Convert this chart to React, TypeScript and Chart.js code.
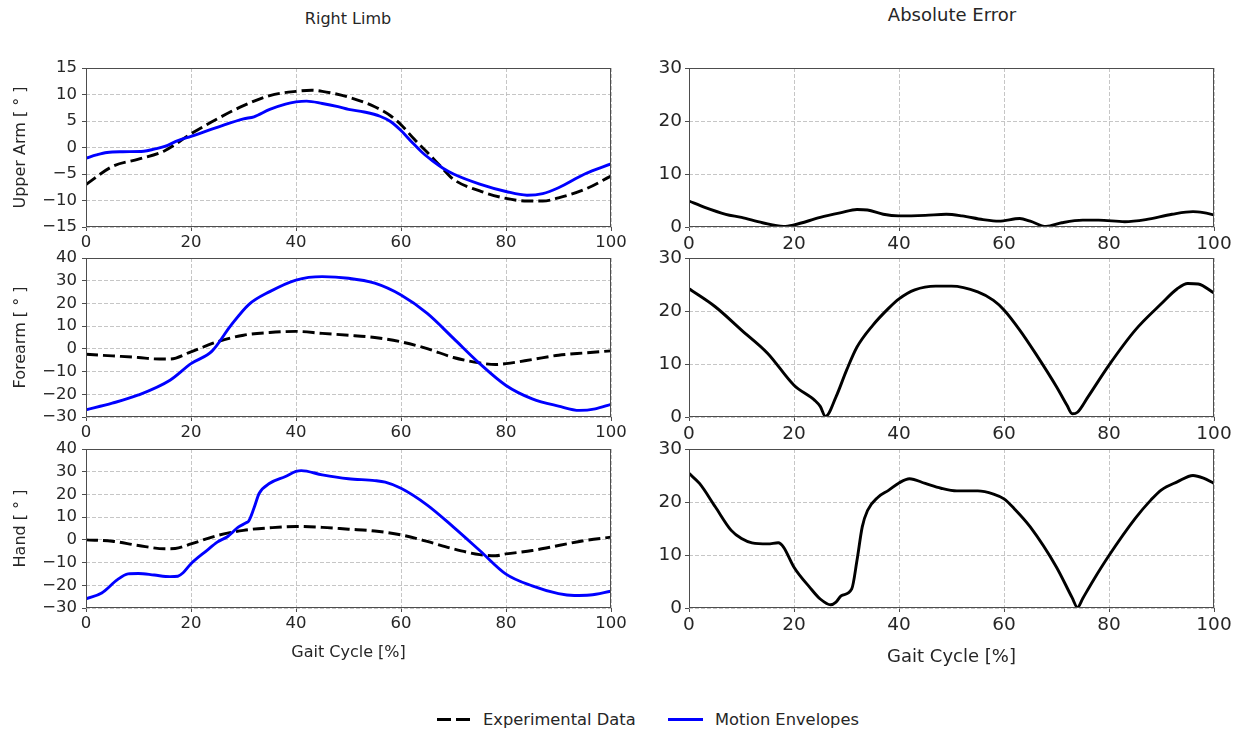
import React, { useEffect, useRef } from "react";
import { Chart, registerables } from "chart.js";
Chart.register(...registerables);

// ---------------- DATA ----------------
const xTicksGait = [0, 20, 40, 60, 80, 100];
const yTicksUpperArm = [-15, -10, -5, 0, 5, 10, 15];
const yTicksForearm = [-30, -20, -10, 0, 10, 20, 30, 40];
const yTicksHand = [-30, -20, -10, 0, 10, 20, 30, 40];
const yTicksError = [0, 10, 20, 30];

// Upper arm
const upperArmExpX = [0, 5, 10, 15, 20, 25, 30, 35, 40, 43, 45, 50, 55, 58, 60, 62.5, 65, 67.5, 70, 75, 80, 84, 87, 90, 95, 100];
const upperArmExpY = [-7, -3.6, -2.2, -0.6, 2.6, 5.4, 7.9, 9.8, 10.6, 10.8, 10.6, 9.5, 7.7, 6, 4.3, 1.6, -0.9, -3.5, -6, -8.2, -9.6, -10.1, -10.1, -9.5, -7.9, -5.4];
const upperArmEnvX = [0, 2, 4, 7, 11, 13, 15, 17.5, 20, 25, 30, 32, 35, 38, 40, 42, 45, 48, 50, 53, 56, 58, 60, 62, 64, 66, 68, 70, 75, 80, 84, 87, 90, 95, 100];
const upperArmEnvY = [-2, -1.4, -0.95, -0.8, -0.7, -0.3, 0.2, 1.3, 2.1, 3.8, 5.4, 5.8, 7.2, 8.2, 8.6, 8.75, 8.3, 7.7, 7.2, 6.7, 5.9, 4.9, 3.2, 1.1, -0.9, -2.5, -3.9, -5, -6.9, -8.3, -9, -8.7, -7.6, -5, -3.1];

// Forearm
const forearmExpX = [0, 5, 10, 13, 16, 20, 25, 30, 35, 40, 45, 50, 55, 60, 65, 70, 75, 78, 80, 85, 90, 95, 100];
const forearmExpY = [-2.4, -3.1, -3.8, -4.4, -4.5, -1.3, 3.1, 6, 7.2, 7.7, 6.8, 6, 5, 3.1, 0.1, -3.8, -6.2, -6.9, -6.5, -4.7, -2.8, -1.8, -0.9];
const forearmEnvX = [0, 5, 10, 16, 20, 24, 27.5, 31, 35, 40, 45, 50, 55, 60, 65, 70, 75, 80, 85, 90, 94, 97, 100];
const forearmEnvY = [-26.8, -23.9, -20.3, -13.8, -6.5, -1, 10, 19.5, 25.2, 30.3, 31.8, 31.1, 28.9, 23.7, 15.6, 4.6, -6.5, -16.1, -22, -25.2, -27.1, -26.4, -24.4];

// Hand
const handExpX = [0, 5, 10, 15, 17, 20, 25, 30, 35, 40, 45, 50, 55, 60, 65, 70, 75, 78, 80, 85, 90, 95, 100];
const handExpY = [0, -0.6, -2.5, -3.9, -3.8, -1.8, 1.9, 4.2, 5.3, 5.9, 5.5, 4.7, 3.9, 2.2, -0.7, -4, -6.5, -7, -6.2, -4.7, -2.5, -0.3, 1.2];
const handEnvX = [0, 3, 6, 8, 10, 13, 16, 17.5, 18.5, 20, 23, 25, 27, 28, 29, 30.5, 31, 32, 33, 35, 38, 40, 41, 45, 50, 55, 57, 60, 65, 70, 75, 80, 85, 90, 93, 96, 100];
const handEnvY = [-26, -23.4, -17.5, -15, -14.8, -15.5, -16.2, -16, -14.5, -10.5, -4.7, -1, 1.5, 3.5, 5.6, 7.5, 8.3, 14, 20.5, 24.9, 27.9, 30.1, 30.5, 28.6, 26.9, 26.1, 25.4, 22.7, 15.3, 5.6, -4.7, -15.1, -20.3, -23.7, -24.5, -24.3, -22.6];

// Absolute errors
const upperArmErrX = [0, 3, 7, 10, 14, 18, 20, 25, 29, 32, 34, 37, 40, 45, 49, 52, 56, 59, 63, 65, 68, 71, 75, 78, 83, 87, 92, 96, 98, 100];
const upperArmErrY = [4.9, 3.7, 2.4, 1.8, 0.8, 0.1, 0.4, 1.8, 2.7, 3.3, 3.2, 2.4, 2.1, 2.2, 2.4, 2.1, 1.4, 1.1, 1.6, 1.1, 0.1, 0.8, 1.3, 1.3, 1.0, 1.4, 2.4, 2.9, 2.7, 2.3];
const forearmErrX = [0, 5, 10, 15, 20, 24, 25, 26, 28, 30, 32, 35, 38, 40, 43, 47, 50, 55, 58, 60, 63, 66, 70, 72, 73, 74, 76, 80, 85, 90, 93, 95, 97, 100];
const forearmErrY = [24.2, 20.8, 16.4, 12, 6, 3.1, 2, 0.1, 3.8, 8.8, 13.2, 17.3, 20.5, 22.3, 24, 24.7, 24.7, 23.6, 22, 20.2, 16.4, 12, 5.7, 2.2, 0.6, 0.9, 3.8, 9.8, 16.4, 21.4, 24.2, 25.2, 25.1, 23.4];
const handErrX = [0, 2, 5, 8, 10, 12, 15, 17, 18, 20, 23, 25, 27, 28, 29, 31, 32, 33, 34, 36, 38, 40, 42, 45, 48, 51, 55, 58, 60, 62, 65, 70, 73, 74, 75, 77, 80, 85, 88, 90, 93, 96, 98, 100];
const handErrY = [25.4, 23.5, 19.1, 14.7, 13.1, 12.3, 12.1, 12.3, 11.5, 7.7, 3.9, 1.7, 0.6, 1.1, 2.3, 3.6, 9, 15.3, 18.4, 20.9, 22.2, 23.6, 24.4, 23.5, 22.6, 22.1, 22.1, 21.5, 20.6, 18.7, 15.3, 7.7, 1.9, 0.1, 1.8, 5.2, 9.9, 16.9, 20.4, 22.3, 23.8, 25, 24.5, 23.5];

const seriesLabels = ["Experimental Data", "Motion Envelopes"];
const titles = ["Right Limb", "Absolute Error"];
const yLabels = ["Upper Arm [ \u00b0 ]", "Forearm [ \u00b0 ]", "Hand [ \u00b0 ]"];
const xLabel = "Gait Cycle [%]";

// ---------------- STYLE ----------------
const FONT = "'DejaVu Sans', sans-serif";
const TEXT = "#262626";
const SPINE = "#4d4d4d";
const GRID = "#b8b8b8";
const BLUE = "#0000ff";

const fmt = (v: number) => (v < 0 ? "\u2212" + Math.abs(v) : String(v));
const pts = (xs: number[], ys: number[]) => xs.map((x, i) => ({ x, y: ys[i] }));

const framePlugin = {
  id: "frame",
  afterDraw(chart: any) {
    const { ctx, chartArea: a } = chart;
    ctx.save();
    ctx.strokeStyle = SPINE;
    ctx.lineWidth = 1;
    const l = Math.round(a.left) + 0.5;
    const t = Math.round(a.top) + 0.5;
    const r = Math.round(a.right) - 0.5;
    const b = Math.round(a.bottom) - 0.5;
    ctx.strokeRect(l, t, r - l, b - t);
    ctx.restore();
  },
};

type Series = { x: number[]; y: number[]; color: string; dash?: number[]; order: number; label: string };

type PanelProps = {
  canvasLeft: number;
  canvasWidth: number;
  plotLeft: number;
  plotRight: number;
  plotTop: number;
  plotHeight: number;
  xAxisHeight: number;
  series: Series[];
  yTicks: number[];
  tickSize: number;
  yTickPad: number;
  yTitle?: string;
  yTitleSize?: number;
  xTitle?: string;
  xTitleSize?: number;
};

function Panel(p: PanelProps) {
  const ref = useRef<HTMLCanvasElement | null>(null);
  const padTop = 15;
  const canvasTop = p.plotTop - padTop;
  const canvasHeight = padTop + p.plotHeight + p.xAxisHeight;
  useEffect(() => {
    if (!ref.current) return;
    const gridOpts = {
      color: GRID,
      lineWidth: 0.8,
      drawTicks: true,
      tickLength: 4,
      tickColor: SPINE,
      tickWidth: 1,
      tickBorderDash: [],
    };
    const chart = new Chart(ref.current, {
      type: "line",
      data: {
        datasets: p.series.map((s) => ({
          label: s.label,
          data: pts(s.x, s.y),
          borderColor: s.color,
          backgroundColor: s.color,
          borderWidth: 2.9,
          borderDash: s.dash || [],
          pointRadius: 0,
          fill: false,
          cubicInterpolationMode: "monotone",
          order: s.order,
        })),
      },
      options: {
        animation: false,
        responsive: false,
        maintainAspectRatio: false,
        devicePixelRatio: 1,
        layout: {
          padding: {
            left: 0,
            top: padTop,
            right: p.canvasLeft + p.canvasWidth - p.plotRight,
            bottom: 0,
          },
        },
        plugins: { legend: { display: false }, tooltip: { enabled: false } },
        scales: {
          x: {
            type: "linear",
            min: xTicksGait[0],
            max: xTicksGait[xTicksGait.length - 1],
            afterBuildTicks: (scale: any) => {
              scale.ticks = xTicksGait.map((v) => ({ value: v }));
            },
            afterFit: (scale: any) => {
              scale.height = p.xAxisHeight;
            },
            ticks: {
              font: { family: FONT, size: p.tickSize },
              color: TEXT,
              padding: 2,
              maxRotation: 0,
              autoSkip: false,
            },
            grid: gridOpts,
            border: { display: false, dash: [4, 2] },
            title: p.xTitle
              ? {
                  display: true,
                  text: p.xTitle,
                  font: { family: FONT, size: p.xTitleSize },
                  color: TEXT,
                  padding: { top: 0, bottom: 0 },
                }
              : { display: false },
          },
          y: {
            type: "linear",
            min: p.yTicks[0],
            max: p.yTicks[p.yTicks.length - 1],
            afterBuildTicks: (scale: any) => {
              scale.ticks = p.yTicks.map((v) => ({ value: v }));
            },
            afterFit: (scale: any) => {
              scale.width = p.plotLeft - p.canvasLeft;
            },
            ticks: {
              font: { family: FONT, size: p.tickSize },
              color: TEXT,
              padding: p.yTickPad,
              autoSkip: false,
              callback: (v: any) => fmt(Number(v)),
            },
            grid: gridOpts,
            border: { display: false, dash: [4, 2] },
            title: p.yTitle
              ? {
                  display: true,
                  text: p.yTitle,
                  font: { family: FONT, size: p.yTitleSize },
                  color: TEXT,
                  padding: { top: 11, bottom: 0 },
                }
              : { display: false },
          },
        },
      } as any,
      plugins: [framePlugin],
    });
    return () => chart.destroy();
  }, []);
  return (
    <canvas
      ref={ref}
      width={p.canvasWidth}
      height={canvasHeight}
      style={{
        position: "absolute",
        left: p.canvasLeft,
        top: canvasTop,
        width: p.canvasWidth,
        height: canvasHeight,
      }}
    />
  );
}

const rowTops = [68, 258, 449];
const PLOT_H = 159;

function Label({ x, y, size, text }: { x: number; y: number; size: number; text: string }) {
  return (
    <div
      style={{
        position: "absolute",
        left: x,
        top: y,
        transform: "translate(-50%, -50%)",
        fontFamily: FONT,
        fontSize: size,
        color: TEXT,
        whiteSpace: "nowrap",
        lineHeight: 1,
      }}
    >
      {text}
    </div>
  );
}

export default function App() {
  const expStyle = { color: "#000000", dash: [12, 5], order: 1, label: seriesLabels[0] };
  const envStyle = { color: BLUE, order: 0, label: seriesLabels[1] };
  const errStyle = { color: "#000000", order: 0, label: "Absolute Error" };

  const left = [
    { exp: [upperArmExpX, upperArmExpY], env: [upperArmEnvX, upperArmEnvY], ticks: yTicksUpperArm },
    { exp: [forearmExpX, forearmExpY], env: [forearmEnvX, forearmEnvY], ticks: yTicksForearm },
    { exp: [handExpX, handExpY], env: [handEnvX, handEnvY], ticks: yTicksHand },
  ];
  const right = [
    [upperArmErrX, upperArmErrY],
    [forearmErrX, forearmErrY],
    [handErrX, handErrY],
  ];

  const legendText = {
    position: "absolute" as const,
    top: 710,
    fontFamily: FONT,
    fontSize: 16.3,
    color: TEXT,
    lineHeight: "19px",
    whiteSpace: "nowrap" as const,
  };

  return (
    <div style={{ position: "absolute", left: 0, top: 0, width: 1241, height: 733, background: "#fff" }}>
      <Label x={348} y={19} size={16} text={titles[0]} />
      <Label x={952} y={15} size={18} text={titles[1]} />
      {left.map((r, i) => (
        <Panel
          key={"l" + i}
          canvasLeft={0}
          canvasWidth={640}
          plotLeft={86}
          plotRight={611}
          plotTop={rowTops[i]}
          plotHeight={PLOT_H}
          xAxisHeight={i === 2 ? 54 : 28}
          series={[
            { x: r.exp[0], y: r.exp[1], ...expStyle },
            { x: r.env[0], y: r.env[1], ...envStyle },
          ]}
          yTicks={r.ticks}
          tickSize={16.5}
          yTickPad={5}
          yTitle={yLabels[i]}
          yTitleSize={16}
          xTitle={i === 2 ? xLabel : undefined}
          xTitleSize={16}
        />
      ))}
      {right.map((r, i) => (
        <Panel
          key={"r" + i}
          canvasLeft={640}
          canvasWidth={601}
          plotLeft={689}
          plotRight={1214}
          plotTop={rowTops[i]}
          plotHeight={PLOT_H}
          xAxisHeight={i === 2 ? 60 : 28}
          series={[{ x: r[0], y: r[1], ...errStyle }]}
          yTicks={yTicksError}
          tickSize={18.5}
          yTickPad={3}
          xTitle={i === 2 ? xLabel : undefined}
          xTitleSize={18}
        />
      ))}
      {/* legend */}
      <div style={{ position: "absolute", left: 437, top: 718, width: 14, height: 3, background: "#000" }} />
      <div style={{ position: "absolute", left: 456, top: 718, width: 14, height: 3, background: "#000" }} />
      <div style={{ ...legendText, left: 483 }}>{seriesLabels[0]}</div>
      <div style={{ position: "absolute", left: 668, top: 718, width: 35, height: 3, background: BLUE }} />
      <div style={{ ...legendText, left: 715 }}>{seriesLabels[1]}</div>
    </div>
  );
}
